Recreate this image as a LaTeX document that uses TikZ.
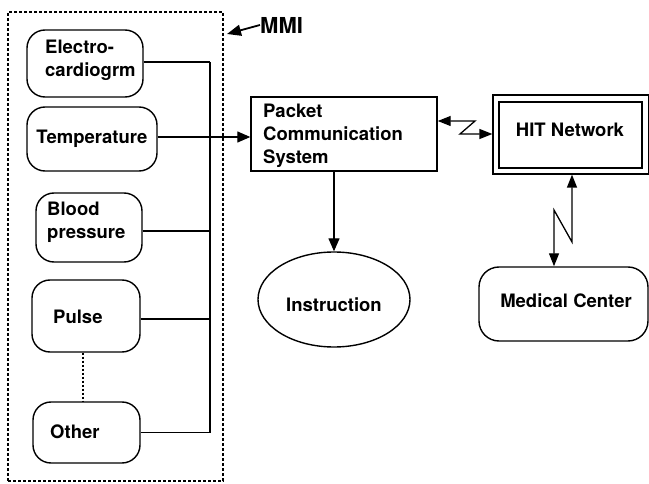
\documentclass[tikz,border=0pt]{standalone}
\usepackage{fontspec}
\newfontfamily\helv{TeX Gyre Heros}
\usetikzlibrary{arrows.meta,shapes.geometric,calc}

\begin{document}
\begin{tikzpicture}[x=1pt,y=-1pt,
  lw/.style={line width=1.4pt},
  rbox/.style={draw,lw,rounded corners=18pt,inner sep=0pt},
  sbox/.style={draw,lw,inner sep=0pt},
  txt/.style={inner sep=0pt,font=\helv\bfseries\fontsize{18.5}{23}\selectfont,align=left},
  tip/.style={-{Triangle[length=13pt,width=11pt]}},
  tips/.style={{Triangle[length=13pt,width=10pt]}-{Triangle[length=13pt,width=10pt]}},
  wire/.style={line width=1.3pt},
]
\useasboundingbox (0,0) rectangle (649,484);

% MMI enclosure
\node[draw,line width=1.5pt,dash pattern=on 3pt off 2pt,minimum width=215pt,minimum height=469pt,inner sep=0pt]
  (mmibox) at (115.5,246.5) {};
\node[txt,anchor=west,font=\helv\bfseries\fontsize{22}{26}\selectfont] (mmi) at (260,25) {MMI};
\coordinate (mmitip) at (227,34);
\draw[line width=1.8pt,-{Triangle[length=14pt,width=11pt]}] (mmi.west) -- (mmitip);

% sensor boxes
\node[rbox,minimum width=116pt,minimum height=67pt] (ecg) at (85,63.5) {};
\node[txt,anchor=west] (ecgt) at (45,60) {Electro-\\cardiogrm};

\node[rbox,minimum width=130pt,minimum height=64pt,txt,draw,lw,rounded corners=18pt] (temp) at (92,139) {Temperature};

\node[rbox,minimum width=106pt,minimum height=69pt] (bp) at (89,227.5) {};
\node[txt,anchor=west] (bpt) at (47,222) {Blood\\pressure};

\node[rbox,minimum width=108pt,minimum height=72pt] (pulse) at (86,316) {};
\node[txt,anchor=west] (pulset) at (53,317) {Pulse};

\node[rbox,minimum width=107pt,minimum height=61pt] (other) at (86.5,432.5) {};
\node[txt,anchor=west] (othert) at (50,432) {Other};

\coordinate (dotx) at (83,0);
\draw[line width=1.5pt,dash pattern=on 2pt off 2pt] (pulse.south -| dotx) -- (other.north -| dotx);

% collecting bus
\coordinate (bus) at (210,0);
\draw[wire] (ecg.east |- 0,62) -- (bus |- 0,62);
\draw[wire] (bp.east |- 0,231) -- (bus |- 0,231);
\draw[wire] (pulse.east |- 0,319) -- (bus |- 0,319);
\draw[wire] (other.east) -- (other.east -| bus);
\draw[wire] (bus |- 0,62) -- (other.east -| bus);

% packet communication system
\node[sbox,minimum width=186pt,minimum height=74pt] (pcs) at (344,134) {};
\node[txt,anchor=west] (pcst) at (263,136) {Packet\\Communication\\System};
\draw[wire,tip] (temp.east |- 0,137) -- (pcs.west |- 0,137);

% instruction
\node[draw,lw,ellipse,minimum width=152pt,minimum height=95pt,inner sep=0pt] (instr) at (334,299.5) {};
\node[txt] (instrt) at (334,305) {Instruction};
\draw[wire,tip] (instr.north |- pcs.south) -- (instr.north);

% HIT network (double frame)
\node[draw,line width=1.2pt,minimum width=155.5pt,minimum height=79pt,inner sep=0pt] (hitouter) at (570.75,134.5) {};
\node[sbox,minimum width=143pt,minimum height=66pt] (hit) at (570.5,135) {};
\node[txt] (hitt) at (570,130) {HIT Network};

% radio link between packet system and network
\coordinate (z1) at (475,121);
\coordinate (z2) at (460,134);
\draw[wire,tips] (pcs.east |- z1) -- (z1) -- (z2) -- (hitouter.west |- z2);

% medical center
\node[rbox,rounded corners=20pt,minimum width=169pt,minimum height=74pt] (med) at (563.5,304) {};
\node[txt] (medt) at (566,301) {Medical Center};

% radio link between network and medical center
\coordinate (n1) at (554,210);
\coordinate (n2) at (572,242);
\draw[wire,tips] (med.north -| n1) -- (n1) -- (n2) -- (hitouter.south -| n2);
\end{tikzpicture}
\end{document}
